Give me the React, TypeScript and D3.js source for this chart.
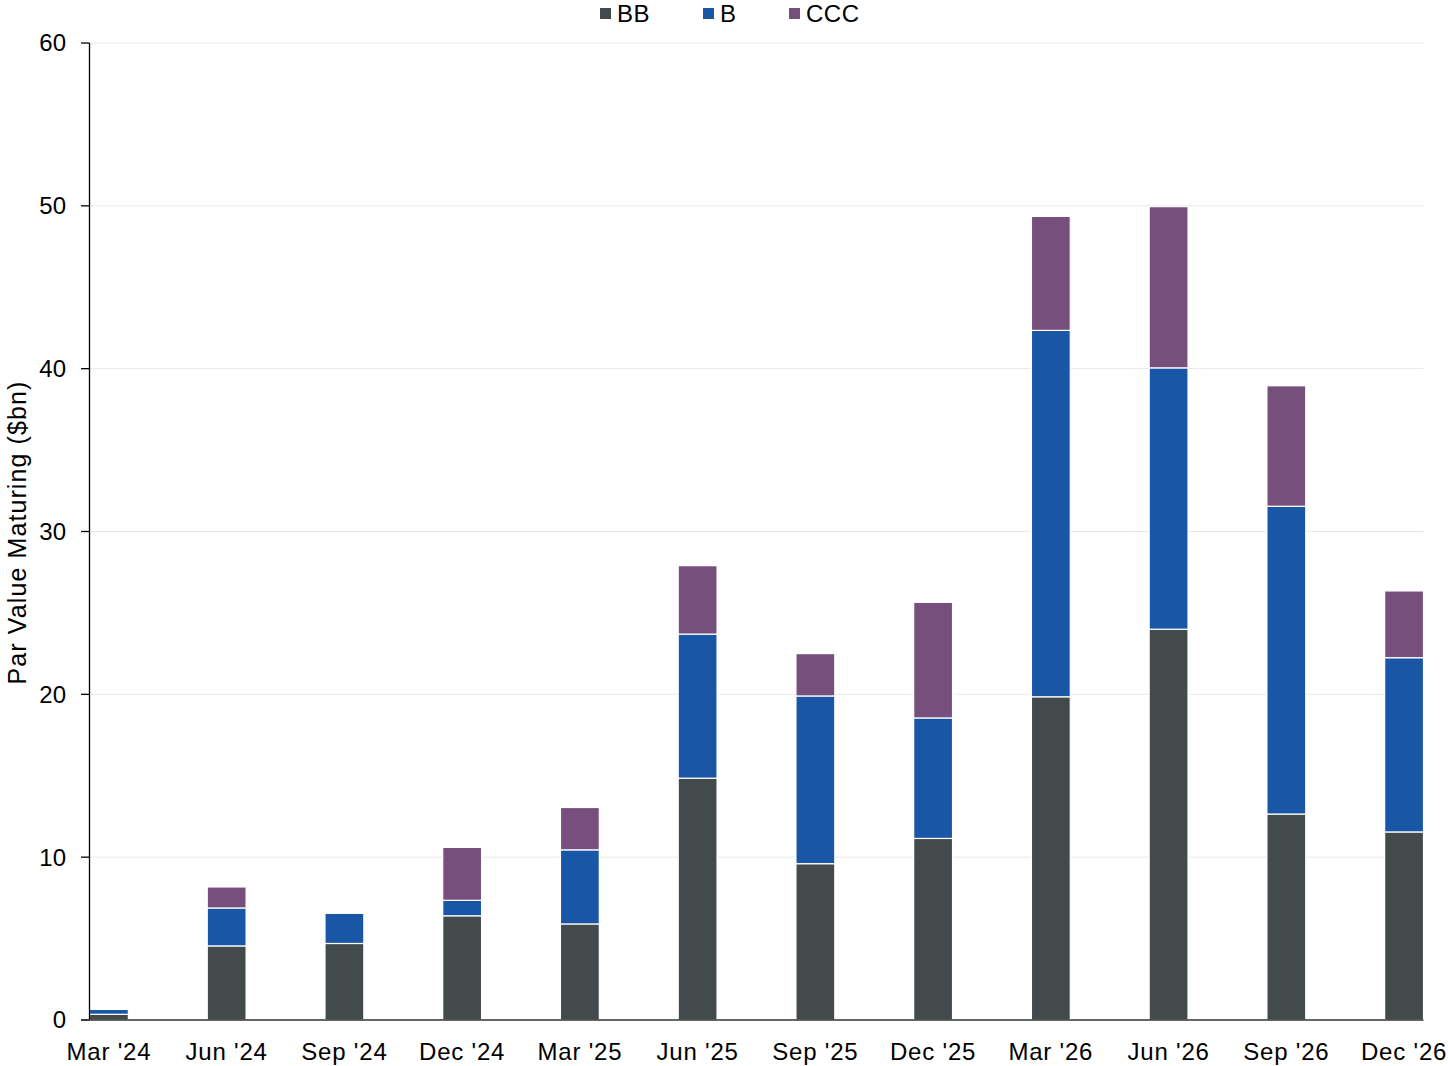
import React from "react";
import * as d3 from "d3";

const categories = ["Mar '24", "Jun '24", "Sep '24", "Dec '24", "Mar '25", "Jun '25", "Sep '25", "Dec '25", "Mar '26", "Jun '26", "Sep '26", "Dec '26"];
const seriesNames = ["BB", "B", "CCC"];
const bbValues = [0.35, 4.55, 4.7, 6.4, 5.9, 14.85, 9.6, 11.15, 19.85, 24.0, 12.65, 11.55];
const bValues = [0.3, 2.33, 1.85, 0.95, 4.55, 8.85, 10.3, 7.4, 22.5, 16.05, 18.9, 10.7];
const cccValues = [0, 1.29, 0, 3.25, 2.6, 4.2, 2.6, 7.1, 7.0, 9.9, 7.4, 4.1];
const yTicks = [0, 10, 20, 30, 40, 50, 60];
const colors = ["#424a4b", "#1957a6", "#774f7d"];

export default function App() {
  const W = 1448, H = 1066;
  const left = 89.5, right = 1423.5, top = 43, bottom = 1020;
  const font = "'Liberation Sans', Arial, Helvetica, sans-serif";

  const rows = categories.map((c, i) => ({ cat: c, BB: bbValues[i], B: bValues[i], CCC: cccValues[i] }));
  const stack = d3.stack<any>().keys(seriesNames)(rows);

  const x = d3.scaleBand<string>().domain(categories).range([left, right]).paddingInner(0.67).paddingOuter(0);
  const y = d3.scaleLinear().domain([0, 60]).range([bottom, top]);

  return (
    <svg width={W} height={H} style={{ position: "absolute", left: 0, top: 0 }} fontFamily={font}>
      {yTicks.map((t) => (
        <g key={t}>
          {t > 0 && <line x1={left} x2={right} y1={y(t)} y2={y(t)} stroke="#e8e8e8" strokeWidth={1} />}
          <line x1={81} x2={left} y1={y(t)} y2={y(t)} stroke="#000" strokeWidth={1.3} />
          <text x={66} y={y(t)} dy="0.35em" textAnchor="end" fontSize={24} fill="#000">{t}</text>
        </g>
      ))}
      {stack.map((s, si) => (
        <g key={s.key}>
          {s.map((d, i) => (
            d[1] - d[0] > 0 ? (
              <rect key={i} x={x(categories[i])} width={x.bandwidth()} y={y(d[1])} height={y(d[0]) - y(d[1])}
                fill={colors[si]} stroke="#fff" strokeWidth={1.2} />
            ) : null
          ))}
        </g>
      ))}
      <line x1={left} x2={left} y1={top} y2={bottom} stroke="#000" strokeWidth={1.3} />
      <line x1={81} x2={right} y1={bottom} y2={bottom} stroke="#333" strokeWidth={1.5} />
      {categories.map((c) => (
        <text key={c} x={(x(c) as number) + x.bandwidth() / 2} y={1060} textAnchor="middle" fontSize={24} letterSpacing={0.8} fill="#000">{c}</text>
      ))}
      <text transform={`translate(26, ${(top + bottom) / 2 + 1}) rotate(-90)`} textAnchor="middle" fontSize={25} letterSpacing={1.1} fill="#000">Par Value Maturing ($bn)</text>
      {[{ n: "BB", sx: 600, tx: 617 }, { n: "B", sx: 703, tx: 720 }, { n: "CCC", sx: 789, tx: 806 }].map((l, i) => (
        <g key={l.n}>
          <rect x={l.sx} y={8} width={11} height={11} fill={colors[i]} />
          <text x={l.tx} y={22} fontSize={24} letterSpacing={0.5} fill="#000">{l.n}</text>
        </g>
      ))}
    </svg>
  );
}
